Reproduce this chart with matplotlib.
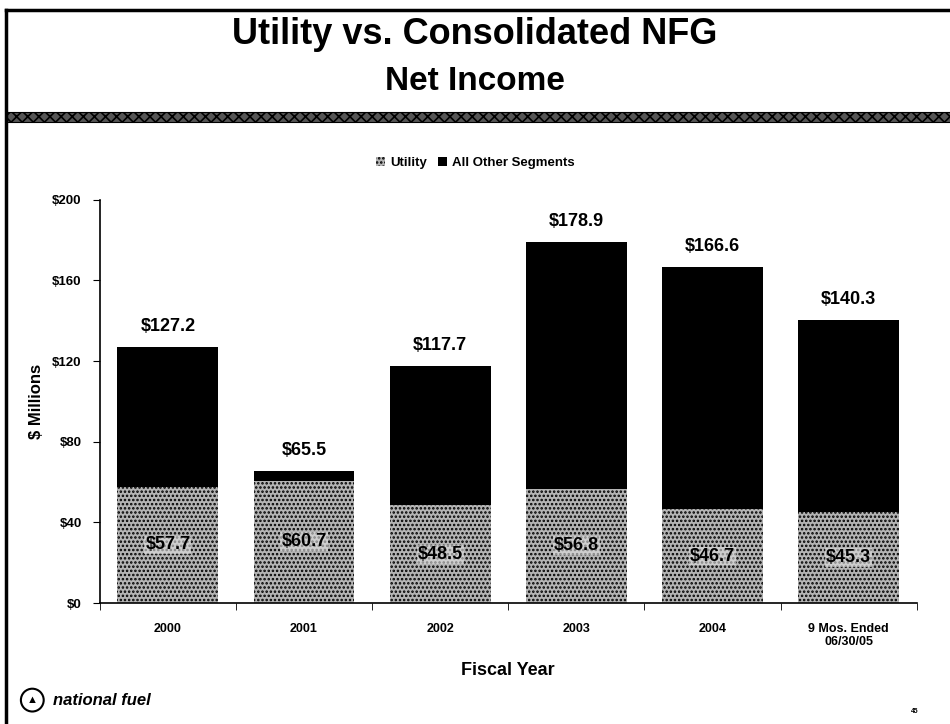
import matplotlib
matplotlib.use("Agg")
from matplotlib import pyplot as plt, patches
import numpy as np

categories = ["2000", "2001", "2002", "2003", "2004", "9 Mos. Ended\n06/30/05"]
utility = [57.7, 60.7, 48.5, 56.8, 46.7, 45.3]
totals = [127.2, 65.5, 117.7, 178.9, 166.6, 140.3]
other = [t - u for t, u in zip(totals, utility)]
y_ticks = [0, 40, 80, 120, 160, 200]

plt.rcParams['font.family'] = ['Liberation Sans', 'DejaVu Sans']
plt.rcParams['hatch.color'] = 'black'
plt.rcParams['hatch.linewidth'] = 1.2

fig = plt.figure(figsize=(9.5, 7.24), dpi=100)

# slide frame: top and left edges only
fig.add_artist(plt.Line2D([0.006, 1.0], [0.986, 0.986], transform=fig.transFigure,
                          color='black', linewidth=2.5))
fig.add_artist(plt.Line2D([0.006, 0.006], [0.986, 0.0], transform=fig.transFigure,
                          color='black', linewidth=2.5))
# textured band under the title
fig.patches.append(patches.Rectangle((0.006, 0.832), 1.0, 0.013, transform=fig.transFigure,
                                     facecolor='#555555', edgecolor='black', hatch='xxx',
                                     linewidth=0.8))

fig.text(0.5, 0.953, "Utility vs. Consolidated NFG", ha='center', va='center',
         fontsize=26, fontweight='bold')
fig.text(0.5, 0.888, "Net Income", ha='center', va='center',
         fontsize=24, fontweight='bold')

ax = fig.add_axes([0.105, 0.167, 0.86, 0.557])
x = np.arange(len(categories))
w = 0.74
ax.bar(x, utility, w, facecolor='#b4b4b4', edgecolor='black', hatch='....', linewidth=0,
       label='Utility')
ax.bar(x, other, w, bottom=utility, color='black', label='All Other Segments')

for i in range(len(categories)):
    ax.text(x[i], totals[i] + 6, f"${totals[i]:.1f}", ha='center', va='bottom',
            fontsize=13, fontweight='bold')
    ax.text(x[i], utility[i] / 2, f"${utility[i]:.1f}", ha='center', va='center',
            fontsize=13, fontweight='bold', color='black',
            bbox=dict(boxstyle='square,pad=0.05', facecolor='#e0e0e0', edgecolor='none', alpha=0.6))

ax.set_xlim(-0.5, len(categories) - 0.5)
ax.set_ylim(0, 200)
ax.set_yticks(y_ticks)
ax.set_yticklabels([f"${v}" for v in y_ticks], fontsize=9.5, fontweight='bold')
ax.set_xticks(x)
ax.set_xticklabels(categories, fontsize=9, fontweight='bold')
ax.tick_params(axis='x', length=0, pad=14)
ax.set_xticks(np.arange(-0.5, len(categories)), minor=True)
ax.tick_params(axis='x', which='minor', length=5, direction='out')
ax.tick_params(axis='y', length=5, direction='out', pad=8)
for s in ['top', 'right']:
    ax.spines[s].set_visible(False)
ax.spines['left'].set_linewidth(1.2)
ax.spines['bottom'].set_linewidth(1.2)
ax.set_ylabel("$ Millions", fontsize=12, fontweight='bold', labelpad=6)
ax.set_xlabel("Fiscal Year", fontsize=13, fontweight='bold', labelpad=10)

leg = ax.legend(loc='upper center', bbox_to_anchor=(0.46, 1.135), ncol=2, frameon=False,
                handlelength=0.7, handleheight=0.7, handletextpad=0.4, columnspacing=0.8,
                prop={'weight': 'bold', 'size': 9.5})

# footer
fig.patches.append(patches.Ellipse((0.034, 0.033), 0.024, 0.024 * 950 / 724,
                                   transform=fig.transFigure, fill=False,
                                   edgecolor='black', linewidth=1.5))
fig.text(0.034, 0.033, "\u25B2", ha='center', va='center', fontsize=8)
fig.text(0.056, 0.033, "national fuel", ha='left', va='center', fontsize=12,
         fontweight='bold', style='italic')
fig.text(0.963, 0.017, "45", ha='center', va='center', fontsize=5, fontweight='bold')

fig.savefig("out.png", dpi=100)
